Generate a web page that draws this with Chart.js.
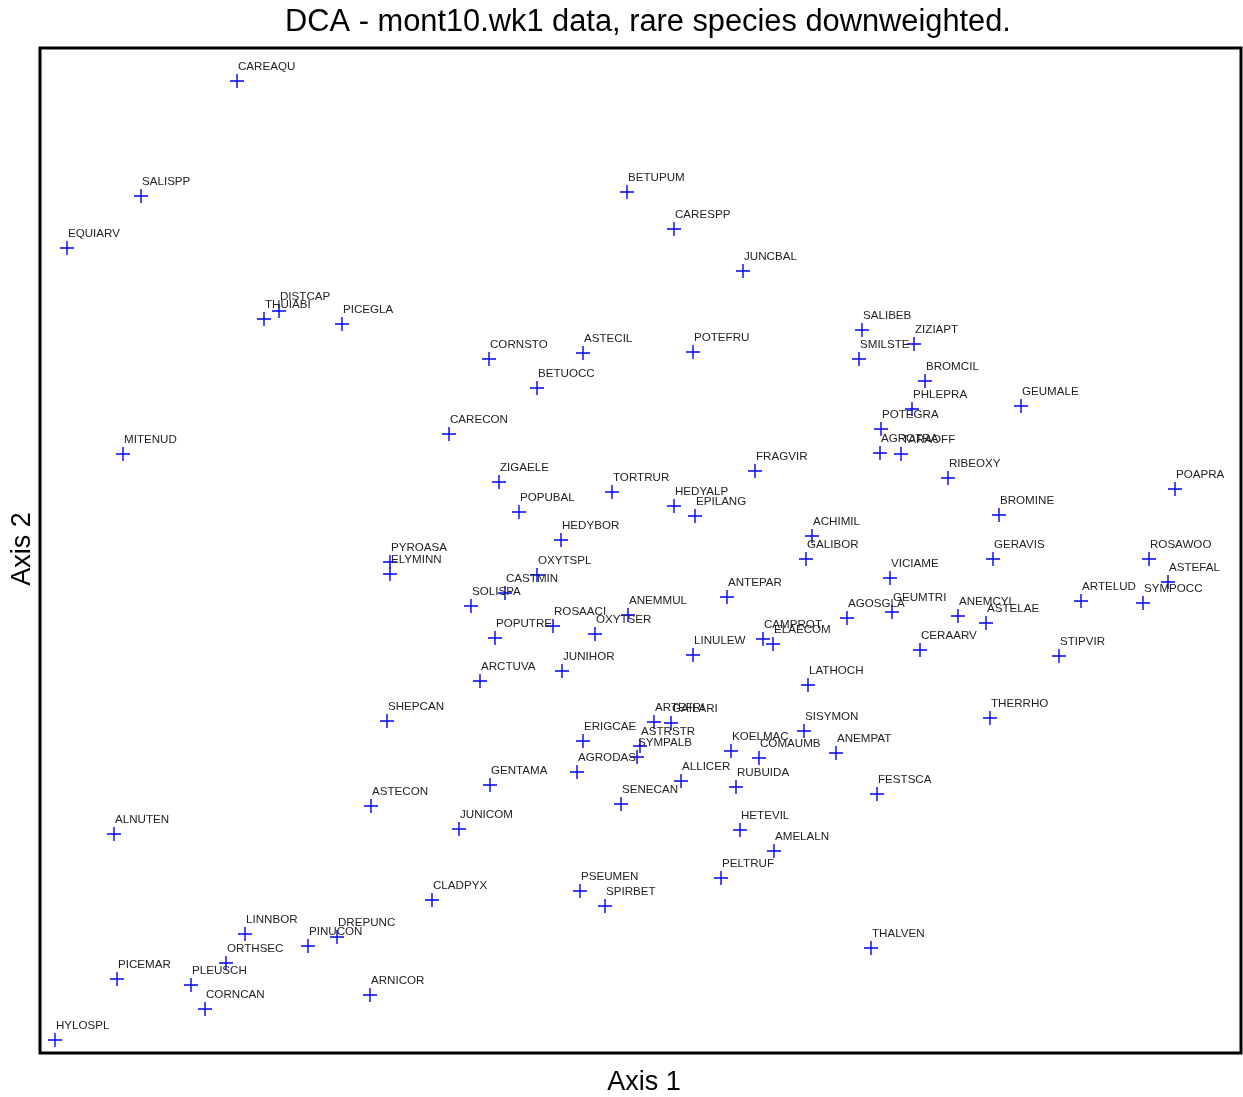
<!DOCTYPE html>
<html lang="en">
<head>
    <meta charset="UTF-8">
    <title>DCA - mont10.wk1</title>
    <script src="https://cdn.jsdelivr.net/npm/chart.js"></script>
    <style>
        html, body { margin: 0; padding: 0; background: #fff; }
        .wrap { width: 1243px; height: 1097px; }
    </style>
</head>
<body>
    <div class="wrap"><canvas id="dcaChart" width="1243" height="1097"></canvas></div>
    <script>
        // species codes and their scores (plot units)
        const speciesNames = [
            'CAREAQU','SALISPP','EQUIARV','THUIABI','DISTCAP','PICEGLA','BETUPUM','CARESPP','JUNCBAL','CORNSTO',
            'ASTECIL','POTEFRU','BETUOCC','CARECON','MITENUD','ZIGAELE','TORTRUR','FRAGVIR','HEDYALP','EPILANG',
            'POPUBAL','SALIBEB','ZIZIAPT','SMILSTE','BROMCIL','PHLEPRA','GEUMALE','POTEGRA','AGROTRA','TARAOFF',
            'RIBEOXY','POAPRA','BROMINE','GERAVIS','ROSAWOO','ASTEFAL','VICIAME','ARTELUD','SYMPOCC','AGOSGLA',
            'GEUMTRI','ANEMCYL','ASTELAE','ACHIMIL','GALIBOR','CAMPROT','ELAECOM','CERAARV','STIPVIR','LATHOCH',
            'THERRHO','SISYMON','HEDYBOR','PYROASA','ELYMINN','OXYTSPL','CASTMIN','SOLISPA','ANEMMUL','ROSAACI',
            'OXYTSER','POPUTRE','ANTEPAR','LINULEW','JUNIHOR','ARCTUVA','SHEPCAN','ASTECON','ALNUTEN','JUNICOM',
            'CLADPYX','LINNBOR','PINUCON','DREPUNC','ORTHSEC','PICEMAR','PLEUSCH','CORNCAN','ARNICOR','HYLOSPL',
            'GENTAMA','ERIGCAE','AGRODAS','ARTEFRI','GAILARI','ASTRSTR','SYMPALB','ALLICER','SENECAN','KOELMAC',
            'COMAUMB','RUBUIDA','ANEMPAT','FESTSCA','HETEVIL','AMELALN','PELTRUF','PSEUMEN','SPIRBET','THALVEN'
        ];
        const axis1Scores = [
            197, 101, 27, 224, 239, 302, 587, 634, 703, 449,
            543, 653, 497, 409, 83, 459, 572, 715, 634, 655,
            479, 822, 874, 819, 885, 872, 981, 841, 840, 861,
            908, 1135, 959, 953, 1109, 1128, 850, 1041, 1103, 807,
            852, 918, 946, 772, 766, 723, 733, 880, 1019, 768,
            950, 764, 521, 350, 350, 497, 465, 431, 588, 513,
            555, 455, 687, 653, 522, 440, 347, 331, 74, 419,
            392, 205, 268, 297, 186, 77, 151, 165, 330, 15,
            450, 543, 537, 614, 631, 600, 597, 641, 581, 691,
            719, 696, 796, 837, 700, 734, 681, 540, 565, 831
        ];
        const axis2Scores = [
            972, 857, 805, 734, 742, 729, 861, 824, 782, 694,
            700, 701, 665, 619, 599, 571, 561, 582, 547, 537,
            541, 723, 709, 694, 672, 644, 647, 624, 600, 599,
            575, 564, 538, 494, 494, 471, 475, 452, 450, 435,
            441, 437, 430, 517, 494, 414, 409, 403, 397, 368,
            335, 322, 513, 491, 479, 478, 460, 447, 438, 427,
            419, 415, 456, 398, 382, 372, 332, 247, 219, 224,
            153, 119, 107, 116, 90, 74, 68, 44, 58, 13,
            268, 312, 281, 331, 330, 307, 296, 272, 249, 302,
            295, 266, 300, 259, 223, 202, 175, 162, 147, 105
        ];
        const axis1Range = [0, 1201];
        const axis2Range = [0, 1005];

        const chartTitle = 'DCA - mont10.wk1 data, rare species downweighted.';
        const xTitle = 'Axis 1';
        const yTitle = 'Axis 2';

        const points = speciesNames.map((n, i) => ({ x: axis1Scores[i], y: axis2Scores[i] }));

        // draws the frame, species labels and the titles
        const decorations = {
            id: 'decorations',
            afterDatasetsDraw(chart) {
                const ctx = chart.ctx;
                const a = chart.chartArea;
                ctx.save();
                ctx.strokeStyle = '#000';
                ctx.lineWidth = 3;
                ctx.strokeRect(a.left, a.top, a.right - a.left, a.bottom - a.top);

                ctx.fillStyle = '#222';
                ctx.font = '11.6px "Liberation Sans", Arial, sans-serif';
                ctx.textAlign = 'left';
                ctx.textBaseline = 'alphabetic';
                chart.getDatasetMeta(0).data.forEach((el, i) => {
                    ctx.fillText(speciesNames[i], el.x + 1, el.y - 11);
                });

                ctx.fillStyle = '#000';
                ctx.textAlign = 'center';
                ctx.textBaseline = 'middle';
                ctx.font = '30.8px "Liberation Sans", Arial, sans-serif';
                ctx.fillText(chartTitle, 648, 23);
                ctx.font = '27px "Liberation Sans", Arial, sans-serif';
                ctx.fillText(xTitle, 644, 1083);
                ctx.translate(23, 549);
                ctx.rotate(-Math.PI / 2);
                ctx.fillText(yTitle, 0, 0);
                ctx.restore();
            }
        };

        new Chart(document.getElementById('dcaChart').getContext('2d'), {
            type: 'scatter',
            data: {
                datasets: [{
                    label: 'species',
                    data: points,
                    pointStyle: 'cross',
                    pointRadius: 7,
                    pointHoverRadius: 7,
                    borderColor: '#0000ff',
                    backgroundColor: '#0000ff',
                    borderWidth: 1.4
                }]
            },
            options: {
                responsive: false,
                animation: false,
                events: [],
                layout: { autoPadding: false, padding: { left: 40, top: 48, right: 2, bottom: 44 } },
                scales: {
                    x: { display: false, min: axis1Range[0], max: axis1Range[1] },
                    y: { display: false, min: axis2Range[0], max: axis2Range[1] }
                },
                plugins: {
                    legend: { display: false },
                    tooltip: { enabled: false }
                }
            },
            plugins: [decorations]
        });
    </script>
</body>
</html>
